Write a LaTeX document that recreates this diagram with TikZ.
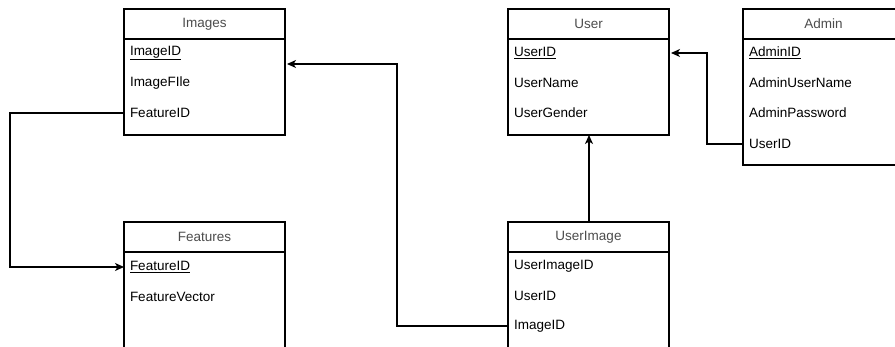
\documentclass[tikz,border=0pt]{standalone}
\usepackage{fontspec}
\setmainfont{Liberation Sans}
\usetikzlibrary{arrows.meta}
\tikzset{
  tblhead/.style={draw, line width=1.5pt, minimum width=161pt, minimum height=30pt,
    inner sep=0pt, outer sep=0pt, anchor=north west, text=black!70,
    font=\fontsize{13.5}{15}\selectfont},
  tblbody/.style={draw, line width=1.5pt},
  tblrow/.style={anchor=west, text width=149pt, inner xsep=6pt, inner ysep=0pt,
    outer sep=0pt, align=left, font=\fontsize{13.5}{15}\selectfont},
  fk/.style={draw, line width=1.3pt, -{Stealth[length=9pt,width=8pt,inset=2.5pt]}},
}
\begin{document}
\begin{tikzpicture}[x=1pt,y=-1pt]
\useasboundingbox (0,0) rectangle (895,347);
\clip (0,0) rectangle (895,347);
% tables
\node[tblhead] (images) at (124,9) {Images};
\draw[tblbody] (images.south west) rectangle ++(161,96);
\node[tblrow] (imgId) at (124,53) {\underline{ImageID}};
\node[tblrow] (imgFile) at (124,83) {ImageFIle};
\node[tblrow] (imgFid) at (124,113) {FeatureID};

\node[tblhead] (features) at (124,222) {Features};
\draw[tblbody] (features.south west) rectangle ++(161,130);
\node[tblrow] (featFid) at (124,267) {\underline{FeatureID}};
\node[tblrow] (featVec) at (124,297) {FeatureVector};

\node[tblhead] (user) at (508,9) {User};
\draw[tblbody] (user.south west) rectangle ++(161,96);
\node[tblrow] (usrUid) at (508,53) {\underline{UserID}};
\node[tblrow] (usrName) at (508,83) {UserName};
\node[tblrow] (usrGender) at (508,113) {UserGender};

\node[tblhead] (admin) at (743,9) {Admin};
\draw[tblbody] (admin.south west) rectangle ++(161,126);
\node[tblrow] (admId) at (743,53) {\underline{AdminID}};
\node[tblrow] (admName) at (743,83) {AdminUserName};
\node[tblrow] (admPass) at (743,113) {AdminPassword};
\node[tblrow] (admUid) at (743,144) {UserID};

\node[tblhead] (uimg) at (508,222) {UserImage};
\draw[tblbody] (uimg.south west) rectangle ++(161,130);
\node[tblrow] (uiId) at (508,266) {UserImageID};
\node[tblrow] (uiUid) at (508,296) {UserID};
\node[tblrow] (uiIid) at (508,326) {ImageID};
% references
\draw[fk] (imgFid.west) -- ++(-114,0) |- (featFid.west);
\draw[fk] (uiIid.west) -- ++(-111,0) |- ([yshift=-11pt,xshift=2pt]imgId.east);
\draw[fk] ([xshift=0.5pt]uimg.north) -- ([xshift=0.5pt,yshift=-96pt]user.south);
\draw[fk] (admUid.west) -- ++(-36,0) |- ([xshift=2pt]usrUid.east);
\end{tikzpicture}
\end{document}
